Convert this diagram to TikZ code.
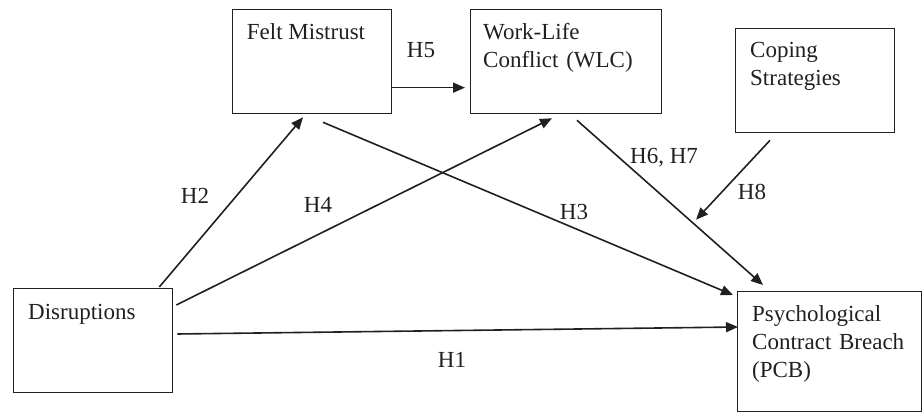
\documentclass[tikz,border=0pt]{standalone}
\usepackage{fontspec}
\setmainfont{Liberation Serif}
\usetikzlibrary{arrows.meta,calc}
\definecolor{ink}{RGB}{35,31,32}
\begin{document}
\begin{tikzpicture}[x=1pt,y=-1pt,
  box/.style={draw=ink,line width=1.3pt,inner sep=0pt,anchor=north west},
  txt/.style={inner sep=0pt,anchor=base west,text=ink,font=\fontsize{23}{28}\selectfont,align=left},
  hlab/.style={inner sep=0pt,anchor=base,text=ink,font=\fontsize{23}{28}\selectfont},
  conn/.style={draw=ink,line width=1.6pt,-{Triangle[length=12pt,width=10pt]}}]
\useasboundingbox (0,0) rectangle (922,412);
% boxes
\node[box,minimum width=158.5pt,minimum height=104pt] (felt) at (232,9) {};
\node[box,minimum width=191pt,minimum height=104pt] (wlc) at (470,9) {};
\node[box,minimum width=159pt,minimum height=104pt] (cop) at (735,28) {};
\node[box,minimum width=159pt,minimum height=104pt] (dis) at (13,288) {};
\node[box,minimum width=183.5pt,minimum height=119.5pt] (pcb) at (737,291) {};
% box texts
\node[txt] (feltt) at (246.7,40) {Felt Mistrust};
\node[txt,text width=170pt] (wlct) at (483,40) {Work-Life\\Conflict (WLC)};
\node[txt,text width=140pt] (copt) at (750,58) {Coping\\Strategies};
\node[txt] (dist) at (28,319) {Disruptions};
\node[txt,text width=170pt] (pcbt) at (752,321) {Psychological\\Contract Breach\\(PCB)};
% hypothesis labels
\node[hlab] (h5) at (421,58) {H5};
\node[hlab] (h2) at (195,203) {H2};
\node[hlab] (h4) at (318,212) {H4};
\node[hlab] (h3) at (574,219) {H3};
\node[hlab] (h67) at (664,163) {H6, H7};
\node[hlab] (h8) at (752,199) {H8};
\node[hlab] (h1) at (452,367) {H1};
% connectors
\draw[conn] ([xshift=-14pt,yshift=1pt]dis.north east) -- ([xshift=71pt,yshift=-3pt]felt.south west);
\draw[conn] ([yshift=-26pt]felt.east) -- ([xshift=-5pt,yshift=-26pt]wlc.west);
\draw[conn] ([xshift=91pt,yshift=-8pt]felt.south west) -- ([xshift=-4pt,yshift=-4pt]pcb.north west);
\draw[conn] ([xshift=3pt,yshift=-17pt]dis.north east) -- ([xshift=82pt,yshift=-4pt]wlc.south west);
\coordinate (w1) at ([xshift=107pt,yshift=-6pt]wlc.south west);
\coordinate (w2) at ([xshift=26pt,yshift=6pt]pcb.north west);
\draw[conn] (w1) -- (w2);
\coordinate (m) at ($(w1)!0.64!(w2)$);
\draw[conn] ([xshift=35pt,yshift=-7pt]cop.south west) -- ([yshift=6pt]m);
\draw[conn] ([xshift=4pt,yshift=-46pt]dis.north east) -- ([xshift=1pt,yshift=-36pt]pcb.north west);
\end{tikzpicture}
\end{document}
